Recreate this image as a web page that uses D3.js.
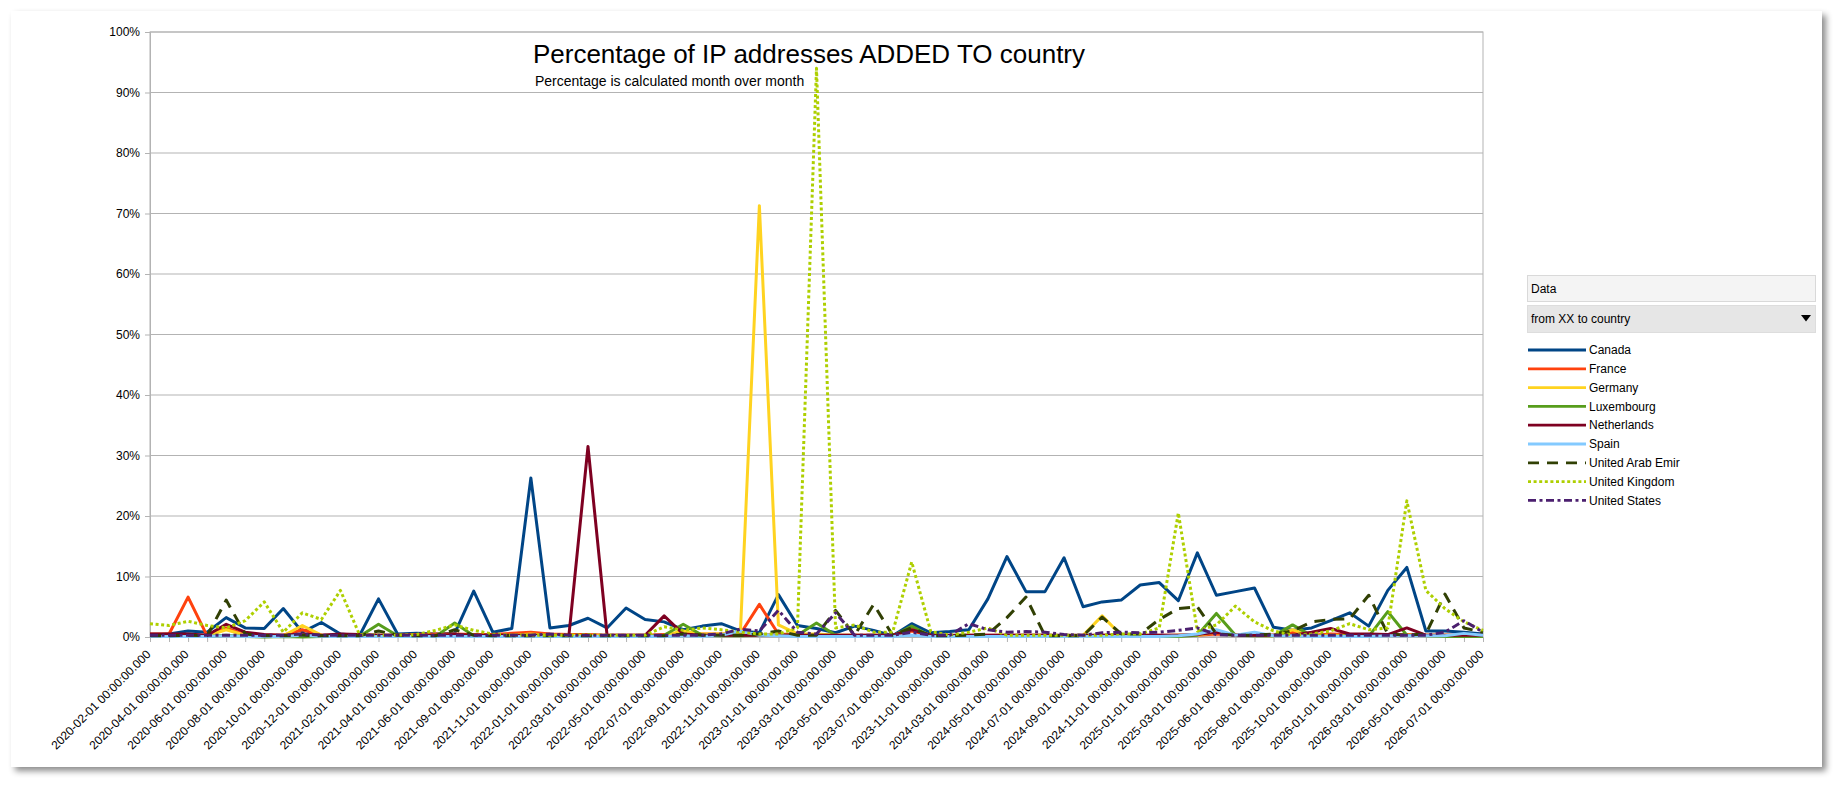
<!DOCTYPE html>
<html>
<head>
<meta charset="utf-8">
<script src="https://cdn.jsdelivr.net/npm/d3@7/dist/d3.min.js"></script>
<style>
  html, body { margin: 0; padding: 0; background: #ffffff; }
  svg { display: block; }
  text { font-family: "Liberation Sans", Arial, sans-serif; fill: #000; }
</style>
</head>
<body>
<svg id="chart" width="1841" height="787"></svg>
<script>
// ---------- data ----------
const categories = [
  "2020-02-01","2020-03-01","2020-04-01","2020-05-01","2020-06-01","2020-07-01","2020-08-01","2020-09-01","2020-10-01","2020-11-01",
  "2020-12-01","2021-01-01","2021-02-01","2021-03-01","2021-04-01","2021-05-01","2021-06-01","2021-08-01","2021-09-01","2021-10-01",
  "2021-11-01","2021-12-01","2022-01-01","2022-02-01","2022-03-01","2022-04-01","2022-05-01","2022-06-01","2022-07-01","2022-08-01",
  "2022-09-01","2022-10-01","2022-11-01","2022-12-01","2023-01-01","2023-02-01","2023-03-01","2023-04-01","2023-05-01","2023-06-01",
  "2023-07-01","2023-09-01","2023-11-01","2024-01-01","2024-03-01","2024-04-01","2024-05-01","2024-06-01","2024-07-01","2024-08-01",
  "2024-09-01","2024-10-01","2024-11-01","2024-12-01","2025-01-01","2025-02-01","2025-03-01","2025-05-01","2025-06-01","2025-07-01",
  "2025-08-01","2025-09-01","2025-10-01","2025-12-01","2026-01-01","2026-02-01","2026-03-01","2026-04-01","2026-05-01","2026-06-01",
  "2026-07-01"
];
const yTicks = [0,10,20,30,40,50,60,70,80,90,100];

const canada = [
  0.3,0.5,1.0,0.8,3.2,1.5,1.4,4.7,0.8,2.4,
  0.5,0.2,6.3,0.5,0.6,0.5,0.6,7.6,0.8,1.4,
  26.3,1.5,1.9,3.1,1.5,4.8,2.9,2.5,1.2,1.8,
  2.2,1.0,0.7,7.0,1.9,1.4,0.7,1.8,1.1,0.2,
  2.2,0.7,0.9,1.2,6.3,13.3,7.5,7.5,13.1,5.0,
  5.8,6.1,8.6,9.0,6.0,13.9,6.9,7.5,8.1,1.6,
  1.1,1.5,2.7,4.0,1.8,7.7,11.5,1.0,1.0,0.8,0.5
];
const france = [
  0.5,0.5,6.6,0.2,1.5,0.4,0.3,0.3,1.2,0.3,
  0.3,0.3,0.3,0.3,0.4,0.5,0.5,0.4,0.4,0.6,
  0.8,0.5,0.4,0.4,0.3,0.3,0.3,0.4,0.5,0.5,
  0.5,0.5,5.4,0.5,0.4,0.4,0.3,0.3,0.3,0.3,
  1.0,0.3,0.2,0.3,0.3,0.3,0.3,0.3,0.2,0.2,
  0.3,0.3,0.3,0.3,0.3,0.3,0.5,0.4,0.3,0.3,
  0.8,0.3,0.5,0.4,0.3,0.3,0.4,0.3,0.3,0.3,0.3
];
const germany = [
  0.2,0.2,0.3,0.2,1.2,0.3,0.2,0.2,1.9,0.3,
  0.2,0.2,0.3,0.2,0.2,0.3,0.3,0.2,0.2,0.3,
  0.5,0.3,0.3,0.2,0.2,0.2,0.2,0.3,1.0,0.5,
  0.5,0.5,71.3,2.0,0.5,0.5,0.3,0.3,0.2,0.2,
  1.5,0.2,0.2,0.2,0.2,0.2,0.2,0.2,0.2,0.3,
  3.5,0.3,0.2,0.2,0.3,0.3,0.8,0.3,0.3,0.2,
  1.2,0.2,0.3,0.2,0.3,0.3,0.3,0.3,0.3,0.2,0.2
];
const luxembourg = [
  0.1,0.1,0.2,0.1,0.3,0.1,0.0,0.1,0.0,0.1,
  0.1,0.1,2.1,0.2,0.1,0.1,2.3,0.2,0.1,0.1,
  0.2,0.1,0.1,0.1,0.1,0.1,0.1,0.3,2.1,0.3,
  0.2,0.2,0.3,0.3,0.3,2.3,0.3,0.2,0.1,0.1,
  1.8,0.1,0.1,0.1,0.1,0.1,0.1,0.1,0.1,0.1,
  0.2,0.1,0.1,0.1,0.1,0.3,3.9,0.3,0.2,0.2,
  2.0,0.2,0.1,0.2,0.1,4.2,0.3,0.2,0.1,0.1,0.1
];
const netherlands = [
  0.5,0.5,0.5,0.3,2.1,0.8,0.4,0.3,0.5,0.3,
  0.5,0.4,0.3,0.3,0.3,0.3,0.4,0.3,0.3,0.3,
  0.3,0.3,0.3,31.5,0.3,0.3,0.3,3.5,0.5,0.3,
  0.3,0.3,0.3,0.3,0.3,0.3,0.3,0.3,0.3,0.3,
  1.2,0.3,0.3,0.3,0.3,0.3,0.3,0.3,0.3,0.3,
  0.3,0.3,0.3,0.3,0.3,0.4,0.8,0.3,0.3,0.3,
  0.3,0.8,1.4,0.5,0.5,0.4,1.5,0.3,0.3,0.3,0.3
];
const spain = [
  0.1,0.1,0.1,0.1,0.2,0.1,0.1,0.1,0.3,0.1,
  0.1,0.1,0.1,0.1,0.1,0.1,0.1,0.1,0.1,0.1,
  0.1,0.1,0.1,0.1,0.1,0.1,0.1,0.1,0.2,0.1,
  0.3,1.0,0.3,0.2,0.1,0.1,0.1,0.1,0.1,0.1,
  0.3,0.1,0.1,0.1,0.1,0.1,0.1,0.1,0.1,0.1,
  0.1,0.1,0.1,0.1,0.2,0.5,1.2,0.3,0.8,0.2,
  0.2,0.1,0.1,0.1,0.1,0.2,0.2,0.2,0.2,0.6,0.3
];
const uae = [
  0.2,0.2,0.3,0.2,6.1,0.5,0.2,0.2,0.3,0.2,
  0.2,0.2,1.0,0.3,0.2,0.2,1.2,0.3,0.2,0.2,
  0.2,0.2,0.2,0.2,0.2,0.2,0.2,0.2,0.5,0.3,
  0.3,0.3,0.5,1.0,0.3,0.3,4.4,0.3,5.4,0.3,
  1.5,0.2,0.2,0.3,0.5,3.2,6.6,0.2,0.2,0.2,
  3.3,0.5,0.5,2.9,4.7,5.0,0.5,0.3,0.3,0.5,
  1.0,2.5,2.9,3.0,6.9,0.5,0.3,0.5,7.1,1.5,0.8
];
const uk = [
  2.2,1.9,2.6,1.9,1.5,2.7,5.8,0.8,4.0,2.9,
  7.7,0.4,0.3,0.3,0.4,1.1,2.0,1.1,0.5,0.3,
  0.3,0.3,0.3,0.4,0.3,0.3,0.3,1.7,1.1,1.5,
  1.2,0.8,0.5,0.5,1.5,94.0,1.5,2.0,0.8,0.8,
  12.4,0.9,0.3,0.8,1.5,0.3,0.3,0.3,0.3,0.3,
  0.3,0.5,0.5,1.5,20.5,1.0,2.0,5.1,2.5,1.0,
  0.3,0.5,1.0,2.2,1.2,1.5,22.5,7.7,4.7,2.5,1.1
];
const us = [
  0.3,0.3,0.3,0.3,0.3,0.3,0.3,0.3,0.5,0.3,
  0.3,0.3,0.3,0.3,0.3,0.3,0.3,0.3,0.3,0.3,
  0.3,0.5,0.3,0.3,0.3,0.3,0.3,0.3,0.3,0.3,
  0.5,1.3,1.0,4.4,0.8,0.5,4.0,0.3,0.3,0.3,
  0.8,0.3,0.3,2.2,1.2,0.8,0.9,0.8,0.4,0.3,
  0.7,0.8,0.7,0.8,1.1,1.5,0.4,0.3,0.3,0.3,
  0.3,0.3,0.3,0.3,0.3,0.3,0.3,0.3,0.8,2.7,0.8
];

const seriesNames = ["Canada","France","Germany","Luxembourg","Netherlands","Spain","United Arab Emir","United Kingdom","United States"];
const seriesValues = [canada, france, germany, luxembourg, netherlands, spain, uae, uk, us];
const seriesColors = ["#004586","#ff420e","#ffd320","#579d1c","#7e0021","#83caff","#314004","#aecf00","#4b1f6f"];
const seriesDash = [null,null,null,null,null,null,"11,8","3,2.6","8,3.5,3,3.5"];

// ---------- layout ----------
const svg = d3.select("#chart");
const L = 150, R = 1483, T = 32, B = 637;

const defs = svg.append("defs");
const f = defs.append("filter").attr("id","shadow").attr("x","-5%").attr("y","-5%").attr("width","110%").attr("height","112%");
f.append("feDropShadow").attr("dx",4).attr("dy",4).attr("stdDeviation",3).attr("flood-color","#000").attr("flood-opacity",0.45);

svg.append("rect").attr("x",11).attr("y",11).attr("width",1811).attr("height",756)
  .attr("fill","#fff").attr("filter","url(#shadow)");

const x = d3.scalePoint().domain(categories).range([L, R]);
const y = d3.scaleLinear().domain([0,100]).range([B, T]);

// gridlines
svg.append("g").selectAll("line").data(yTicks).join("line")
  .attr("x1",L).attr("x2",R).attr("y1",d=>y(d)).attr("y2",d=>y(d))
  .attr("stroke","#b3b3b3").attr("stroke-width",1);
// plot border
svg.append("rect").attr("x",L).attr("y",T).attr("width",R-L).attr("height",B-T)
  .attr("fill","none").attr("stroke","#b3b3b3").attr("stroke-width",1);

// y axis
const yAxis = svg.append("g").attr("transform",`translate(${L},0)`)
  .call(d3.axisLeft(y).tickValues(yTicks).tickSize(5).tickPadding(5).tickFormat(d=>d+"%"));
yAxis.select(".domain").attr("stroke","#b3b3b3");
yAxis.selectAll(".tick line").attr("stroke","#b3b3b3");
yAxis.selectAll(".tick text").attr("font-size","12px").attr("font-family","Liberation Sans, Arial, sans-serif").attr("fill","#000");

// x axis
const xAxis = svg.append("g").attr("transform",`translate(0,${B})`)
  .call(d3.axisBottom(x).tickSize(5).tickFormat((d,i)=> i%2===0 ? d+" 00:00:00.000" : ""));
xAxis.select(".domain").attr("stroke","#b3b3b3");
xAxis.selectAll(".tick line").attr("stroke","#b3b3b3");
xAxis.selectAll(".tick text")
  .attr("font-size","12px").attr("font-family","Liberation Sans, Arial, sans-serif").attr("fill","#000")
  .attr("text-anchor","end").attr("y",0).attr("x",0).attr("dy","0.35em")
  .attr("transform","translate(-2,15) rotate(-45)");

// lines
const line = d3.line().x((d,i)=>x(categories[i])).y(d=>y(d));
const gLines = svg.append("g");
seriesValues.forEach((vals,k)=>{
  gLines.append("path").datum(vals)
    .attr("d",line).attr("fill","none")
    .attr("stroke",seriesColors[k]).attr("stroke-width",3)
    .attr("stroke-linejoin","round")
    .attr("stroke-dasharray",seriesDash[k]);
});

// title
svg.append("text").attr("x",809).attr("y",63).attr("text-anchor","middle")
  .attr("font-size","26px").text("Percentage of IP addresses ADDED TO country");
svg.append("text").attr("x",535).attr("y",85.5).attr("text-anchor","start")
  .attr("font-size","14px").text("Percentage is calculated month over month");

// legend header boxes
svg.append("rect").attr("x",1527.5).attr("y",275.5).attr("width",288).attr("height",26)
  .attr("fill","#f4f4f4").attr("stroke","#d9d9d9");
svg.append("text").attr("x",1531).attr("y",293).attr("font-size","12px")
  .attr("font-family","Liberation Serif, Times New Roman, serif").text("Data");
svg.append("rect").attr("x",1527.5).attr("y",305.5).attr("width",288).attr("height",27)
  .attr("fill","#e6e6e6").attr("stroke","#dddddd");
svg.append("text").attr("x",1531).attr("y",323).attr("font-size","12px")
  .attr("font-family","Liberation Serif, Times New Roman, serif").text("from XX to country");
svg.append("path").attr("d","M1801,315 L1811,315 L1806,321.5 Z").attr("fill","#000");

// legend items
const leg = svg.append("g").selectAll("g").data(seriesNames).join("g")
  .attr("transform",(d,i)=>`translate(1528,${350 + i*18.8})`);
leg.append("line").attr("x1",0).attr("x2",58).attr("y1",0).attr("y2",0)
  .attr("stroke",(d,i)=>seriesColors[i]).attr("stroke-width",2.8)
  .attr("stroke-dasharray",(d,i)=>seriesDash[i]);
leg.append("text").attr("x",61).attr("y",0).attr("dy","0.35em").attr("font-size","12px").text(d=>d);
</script>
</body>
</html>
